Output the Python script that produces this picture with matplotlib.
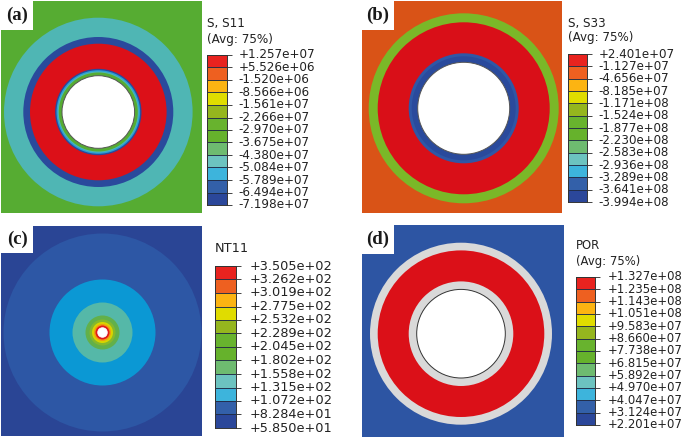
import matplotlib
matplotlib.use("Agg")
import matplotlib.pyplot as plt
from matplotlib.patches import Circle, Rectangle
from matplotlib.transforms import ScaledTranslation

W, H = 685, 438

# legend levels, top to bottom
levels_a = [1.257e7, 5.526e6, -1.520e6, -8.566e6, -1.561e7, -2.266e7, -2.970e7,
            -3.675e7, -4.380e7, -5.084e7, -5.789e7, -6.494e7, -7.198e7]
levels_b = [2.401e7, -1.127e7, -4.656e7, -8.185e7, -1.171e8, -1.524e8, -1.877e8,
            -2.230e8, -2.583e8, -2.936e8, -3.289e8, -3.641e8, -3.994e8]
levels_c = [3.505e2, 3.262e2, 3.019e2, 2.775e2, 2.532e2, 2.289e2, 2.045e2,
            1.802e2, 1.558e2, 1.315e2, 1.072e2, 8.284e1, 5.850e1]
levels_d = [1.327e8, 1.235e8, 1.143e8, 1.051e8, 9.583e7, 8.660e7, 7.738e7,
            6.815e7, 5.892e7, 4.970e7, 4.047e7, 3.124e7, 2.201e7]

legend_colors = ["#e8231f", "#ee6020", "#fcb412", "#e0dc00", "#95b61e", "#68b32e",
                 "#66b22c", "#6ebb70", "#6cc3c0", "#3db4dc", "#3360a9", "#2b479a"]

# contour bands, outer to inner: radius and colour
radii_a = [94.3, 75, 68.3, 43.2, 41.8, 40.5, 39.5]
bands_a = ["#4fb6b4", "#2a4a9c", "#dc1018", "#2a4a9c", "#2a9fd8", "#4fb6b4", "#56ac32"]
radii_b = [95, 86, 55, 52]
bands_b = ["#7ab828", "#d90f18", "#2f57a6", "#2a4a9c"]
radii_c = [99, 53, 30, 17, 13, 10.5, 8.5, 7]
bands_c = ["#2d57a5", "#0b98d4", "#55b8a8", "#62b04a", "#85b82c", "#d8d400", "#f39a10", "#e01a1c"]
radii_d = [91, 83.3, 52.3]
bands_d = ["#d9d9d9", "#db1018", "#d9d9d9"]


def px_axes(fig, left, top, right, bottom):
    return fig.add_axes([left / W, 1 - bottom / H, (right - left) / W, (bottom - top) / H])


def draw_panel(fig, box, center, notch, bg, radii, bands, hole, hole_edge, label):
    left, top, right, bottom = box
    cx, cy = center
    ax = px_axes(fig, left, top, right, bottom)
    ax.set_xlim(left - cx, right - cx)
    ax.set_ylim(cy - bottom, cy - top)
    ax.set_facecolor(bg)
    ax.set_xticks([])
    ax.set_yticks([])
    for s in ax.spines.values():
        s.set_visible(False)
    for r, c in zip(radii, bands):
        ax.add_patch(Circle((0, 0), r, facecolor=c, edgecolor="none"))
    ax.add_patch(Circle((0, 0), hole, facecolor="white", edgecolor=hole_edge, linewidth=0.7))
    # white corner box behind the panel letter
    ax.add_patch(Rectangle((left - cx, cy - notch[1]), notch[0] - left, notch[1] - top,
                           facecolor="white", edgecolor="none"))
    fig.text((left + notch[0]) / 2 / W, 1 - (top + notch[1]) / 2 / H, label,
             family="Liberation Serif", weight="bold", fontsize=13.5,
             ha="center", va="center", color="#1a1a1a")


def draw_legend(fig, box, levels, text_x, titles, size):
    left, top, right, bottom = box
    ax = px_axes(fig, left, top, right, bottom)
    for i, c in enumerate(legend_colors):
        ax.bar(0, levels[i] - levels[i + 1], bottom=levels[i + 1], width=1, align="edge",
               color=c, edgecolor="#1f2a44", linewidth=0.6)
    ax.set_xlim(0, 1)
    ax.set_ylim(levels[-1], levels[0])
    ax.set_xticks([])
    ax.yaxis.tick_right()
    ax.set_yticks(levels)
    ax.set_yticklabels([f"{v:+.3e}" for v in levels], fontsize=size, color="#222222")
    # tick length and pad are in points, 0.72 pt per pixel at dpi 100
    ax.tick_params(axis="y", length=3.6, width=0.7, color="#444444",
                   pad=(text_x - right) * 0.72 - 3.6)
    lift = ScaledTranslation(0, 1.5 / 100, fig.dpi_scale_trans)
    for t in ax.get_yticklabels():
        t.set_transform(t.get_transform() + lift)
    for s in ax.spines.values():
        s.set_linewidth(0.7)
        s.set_color("#333333")
    for text, y in titles:
        fig.text(left / W, 1 - y / H, text, fontsize=size, color="#222222", va="center")


fig = plt.figure(figsize=(W / 100, H / 100), dpi=100)

draw_panel(fig, (1, 1, 201.5, 212.5), (98.3, 112), (33, 30), "#56ac32",
           radii_a, bands_a, 36.3, "#555555", "(a)")
draw_legend(fig, (207, 55, 227, 205), levels_a, 238.5, [("S, S11", 23), ("(Avg: 75%)", 39)], 8.65)

draw_panel(fig, (361.7, 1, 562, 212.5), (463.7, 108.3), (394, 30), "#d95317",
           radii_b, bands_b, 46, "#555555", "(b)")
draw_legend(fig, (567.7, 54, 586.7, 202), levels_b, 598.5, [("S, S33", 23), ("(Avg: 75%)", 38)], 8.55)

draw_panel(fig, (1, 225.5, 201.5, 436), (102.5, 332.5), (33, 253), "#2a4595",
           radii_c, bands_c, 4.7, "white", "(c)")
draw_legend(fig, (215, 266, 235.7, 428), levels_c, 249.5, [("NT11", 248.7)], 9.25)

draw_panel(fig, (361.7, 225.3, 564, 437), (461, 333.7), (394, 253.7), "#2d55a3",
           radii_d, bands_d, 44.3, "#333333", "(d)")
draw_legend(fig, (576, 277, 595, 425), levels_d, 607.5, [("POR", 245), ("(Avg: 75%)", 261)], 8.4)

fig.savefig("out.png", dpi=100)
